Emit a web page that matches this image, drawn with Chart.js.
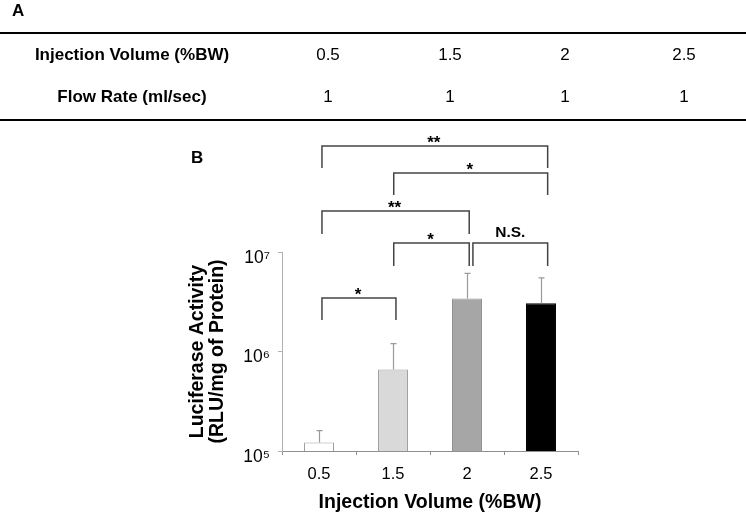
<!DOCTYPE html>
<html>
<head>
<meta charset="utf-8">
<script src="https://cdn.jsdelivr.net/npm/chart.js@4"></script>
<style>
  html, body { margin: 0; padding: 0; background: #fff; }
  body { width: 746px; height: 512px; position: relative; overflow: hidden; font-family: 'Liberation Sans', Arial, sans-serif; color: #000; }
  #c { position: absolute; left: 0; top: 0; }
  .panel { position: absolute; font-weight: bold; font-size: 17px; line-height: 20px; z-index: 2; }
  #tbl { position: absolute; left: 0; top: 32px; width: 746px; border-collapse: collapse; table-layout: fixed;
         border-top: 2px solid #000; border-bottom: 2px solid #000; z-index: 2; font-size: 17px; }
  #tbl td { padding: 0; text-align: center; vertical-align: middle; }
  #tbl td.h { font-weight: bold; }
</style>
</head>
<body>
<div class="panel" id="lblA" style="left:12px; top:1px;">A</div>
<div class="panel" id="lblB" style="left:191px; top:148px;">B</div>
<table id="tbl">
  <colgroup><col style="width:264px"><col style="width:128px"><col style="width:116px"><col style="width:114px"><col style="width:124px"></colgroup>
  <tbody></tbody>
</table>
<canvas id="c" width="746" height="512"></canvas>
<script>
// ---- data ----
const categories = ['0.5', '1.5', '2', '2.5'];
const tableVolumes = ['0.5', '1.5', '2', '2.5'];
const tableFlowRates = ['1', '1', '1', '1'];
const tableRowLabels = ['Injection Volume (%BW)', 'Flow Rate (ml/sec)'];
const activity = [1.22e5, 6.6e5, 3.4e6, 3.05e6];
const activitySD = [0.38e5, 5.4e5, 2.7e6, 2.45e6];
const yTickValues = [1e5, 1e6, 1e7];
const yTickLabels = ['10\u2075', '10\u2076', '10\u2077'];
const sigLabels = ['**', '*', '**', '*', 'N.S.', '*'];
const sigFrom = [0, 1, 0, 1, 2, 0];
const sigTo = [3, 3, 2, 2, 3, 1];

// ---- table (panel A) ----
const tbody = document.querySelector('#tbl tbody');
[[tableRowLabels[0], tableVolumes, 42], [tableRowLabels[1], tableFlowRates, 45]].forEach(([lab, vals, h]) => {
  const tr = document.createElement('tr');
  tr.style.height = h + 'px';
  const th = document.createElement('td'); th.className = 'h'; th.textContent = lab; tr.appendChild(th);
  vals.forEach(v => { const td = document.createElement('td'); td.textContent = v; tr.appendChild(td); });
  tbody.appendChild(tr);
});

// ---- bracket layout (style only: x nudges in category units, y levels in log10 units) ----
const bracketGeom = [
  { dx0: 0.04, dx1: 0.09, top: 8.065, foot: 7.844 },
  { dx0: 0.01, dx1: 0.09, top: 7.794, foot: 7.573 },
  { dx0: 0.04, dx1: 0.03, top: 7.412, foot: 7.181 },
  { dx0: 0.01, dx1: 0.03, top: 7.090, foot: 6.859 },
  { dx0: 0.08, dx1: 0.09, top: 7.090, foot: 6.859 },
  { dx0: 0.04, dx1: 0.04, top: 6.538, foot: 6.317 }
];

const errorBars = {
  id: 'errorBars',
  afterDatasetsDraw(chart) {
    const { ctx, scales: { y } } = chart;
    const meta = chart.getDatasetMeta(0);
    ctx.save();
    ctx.strokeStyle = '#9a9a9a';
    ctx.lineWidth = 1.2;
    meta.data.forEach((bar, i) => {
      const yt = y.getPixelForValue(activity[i] + activitySD[i]);
      const x = Math.round(bar.x) + 0.5;
      ctx.beginPath();
      ctx.moveTo(x, bar.y);
      ctx.lineTo(x, yt);
      ctx.moveTo(x - 3, yt);
      ctx.lineTo(x + 3, yt);
      ctx.stroke();
    });
    ctx.restore();
  }
};

const brackets = {
  id: 'brackets',
  afterDraw(chart) {
    const { ctx, scales: { x, y } } = chart;
    ctx.save();
    ctx.strokeStyle = '#444';
    ctx.lineWidth = 1.5;
    ctx.fillStyle = '#000';
    ctx.textAlign = 'center';
    sigLabels.forEach((lab, i) => {
      const g = bracketGeom[i];
      const x0 = x.getPixelForValue(sigFrom[i] + g.dx0);
      const x1 = x.getPixelForValue(sigTo[i] + g.dx1);
      const yt = y.getPixelForValue(Math.pow(10, g.top));
      const yf = y.getPixelForValue(Math.pow(10, g.foot));
      ctx.beginPath();
      ctx.moveTo(x0, yf);
      ctx.lineTo(x0, yt);
      ctx.lineTo(x1, yt);
      ctx.lineTo(x1, yf);
      ctx.stroke();
      const xm = (x0 + x1) / 2;
      ctx.textBaseline = 'alphabetic';
      if (lab === 'N.S.') {
        ctx.font = 'bold 15.5px "Liberation Sans", Arial, sans-serif';
        ctx.fillText(lab, xm, yt - 6);
      } else {
        ctx.font = 'bold 17px "Liberation Sans", Arial, sans-serif';
        ctx.fillText(lab, xm - 1, yt + 2);
      }
    });
    ctx.restore();
  }
};

new Chart(document.getElementById('c'), {
  type: 'bar',
  data: {
    labels: categories,
    datasets: [{
      data: activity,
      backgroundColor: ['#ffffff', '#d9d9d9', '#a6a6a6', '#000000'],
      borderColor: ['#a0a0a0', '#a0a0a0', '#909090', '#000000'],
      borderWidth: 1,
      barPercentage: 0.405,
      categoryPercentage: 1
    }]
  },
  options: {
    responsive: false,
    devicePixelRatio: 1,
    animation: false,
    layout: { padding: { left: 188, right: 168, top: 252, bottom: 0 } },
    plugins: { legend: { display: false }, tooltip: { enabled: false } },
    scales: {
      x: {
        afterFit(s) { s.height = 61; },
        grid: { drawOnChartArea: false, offset: true, tickLength: 4, color: '#909090' },
        border: { color: '#909090' },
        ticks: { color: '#000', padding: 10, font: { size: 16.5, family: '"Liberation Sans", Arial, sans-serif' } },
        title: { display: true, text: 'Injection Volume (%BW)', color: '#000', padding: { top: 0, bottom: -2 },
                 font: { size: 19.5, weight: 'bold', family: '"Liberation Sans", Arial, sans-serif' } }
      },
      y: {
        type: 'logarithmic',
        min: 1e5,
        max: 1e7,
        afterFit(s) { s.width = 94; },
        afterBuildTicks(axis) { axis.ticks = yTickValues.map(v => ({ value: v, major: true })); },
        grid: { drawOnChartArea: false, tickLength: 4, color: '#b0b0b0' },
        border: { color: '#b0b0b0' },
        ticks: {
          color: '#000', padding: 8, labelOffset: 6,
          font: { size: 17.5, family: '"Liberation Sans", Arial, sans-serif' },
          callback(v) { const k = yTickValues.indexOf(v); return k >= 0 ? yTickLabels[k] : ''; }
        },
        title: { display: true, text: ['Luciferase Activity', '(RLU/mg of Protein)'], color: '#000', padding: 0,
                 font: { size: 19.5, weight: 'bold', lineHeight: 1.026, family: '"Liberation Sans", Arial, sans-serif' } }
      }
    }
  },
  plugins: [errorBars, brackets]
});
</script>
</body>
</html>
